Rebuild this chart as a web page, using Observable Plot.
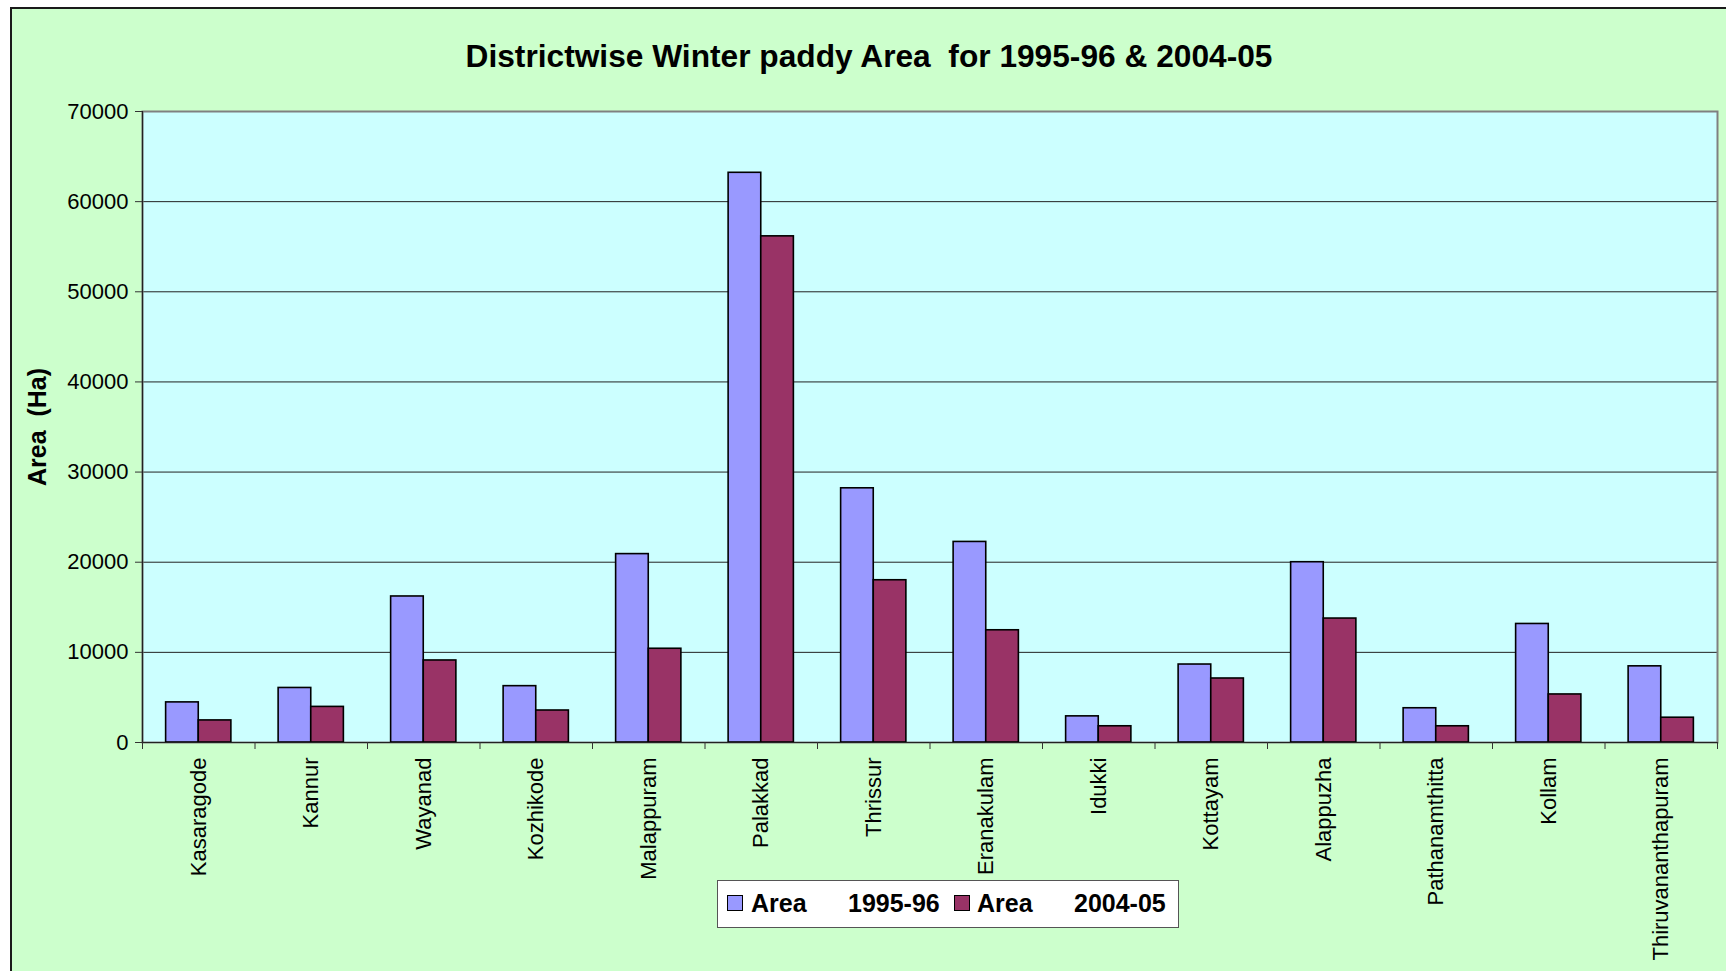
<!DOCTYPE html>
<html><head><meta charset="utf-8">
<script src="https://cdn.jsdelivr.net/npm/d3@7"></script>
<script src="https://cdn.jsdelivr.net/npm/@observablehq/plot@0.6"></script>
<style>
html,body{margin:0;padding:0;background:#fff;overflow:hidden;width:1727px;height:971px;}
#chart{position:absolute;left:10px;top:7px;width:1714px;height:962px;background:#ccffcc;border-left:2px solid #1a1a1a;border-top:2px solid #1a1a1a;font-family:"Liberation Sans",Arial,sans-serif;}
#title{position:absolute;left:0;top:31px;width:1714px;text-align:center;font-size:31.7px;line-height:32px;font-weight:bold;white-space:pre;color:#000;}
#plot{position:absolute;left:0;top:70px;}
#plot svg text{white-space:pre;}
#legend{position:absolute;left:705px;top:871px;width:460px;height:46px;background:#fff;border:1px solid #555;color:#000;}
#legend .sw{position:absolute;top:14px;width:14px;height:14px;border:1.5px solid #000;}
#legend .tx{position:absolute;top:10px;font-size:25px;line-height:25px;font-weight:bold;white-space:pre;}
</style>
</head>
<body>
<div id="chart">
  <div id="title">Districtwise Winter paddy Area  for 1995-96 &amp; 2004-05</div>
  <div id="plot"></div>
  <div id="legend"></div>
</div>
<script>
const districts = ["Kasaragode","Kannur","Wayanad","Kozhikode","Malappuram","Palakkad","Thrissur","Eranakulam","Idukki","Kottayam","Alappuzha","Pathanamthitta","Kollam","Thiruvananthapuram"];
const area1995 = [4450, 6050, 16200, 6250, 20900, 63200, 28200, 22250, 2900, 8650, 20000, 3800, 13150, 8450];
const area2004 = [2450, 3950, 9100, 3550, 10400, 56150, 18000, 12450, 1800, 7100, 13750, 1800, 5330, 2750];
const yTicks = [0, 10000, 20000, 30000, 40000, 50000, 60000, 70000];
const seriesNames = ["Area      1995-96", "Area      2004-05"];
const seriesColors = ["#9999ff", "#993366"];

const rows = districts.map((d, i) => ({district: d, a1995: area1995[i], a2004: area2004[i]}));

const W = 1714, H = 892, ML = 130, MR = 9, MT = 32, MB = 229;
const step = (W - ML - MR) / districts.length;
const gap = step * 0.21;
const barW = (step - 2 * gap) / 2;

const chart = Plot.plot({
  width: W, height: H,
  marginLeft: ML, marginRight: MR, marginTop: MT, marginBottom: MB,
  style: {background: "transparent", fontFamily: "'Liberation Sans', Arial, sans-serif", color: "#000"},
  x: {type: "band", domain: districts, padding: 0, round: false},
  y: {domain: [0, 70000]},
  marks: [
    Plot.frame({fill: "#ccffff"}),
    Plot.ruleY(yTicks.filter(v => v > 0 && v < 70000), {stroke: "#222", strokeWidth: 1}),
    Plot.frame({stroke: "#808080", strokeWidth: 2}),
    Plot.barY(rows, {x: "district", y: "a1995", fill: seriesColors[0], stroke: "#000", strokeWidth: 1.6, insetLeft: gap, insetRight: step - gap - barW}),
    Plot.barY(rows, {x: "district", y: "a2004", fill: seriesColors[1], stroke: "#000", strokeWidth: 1.6, insetLeft: gap + barW, insetRight: gap}),
    Plot.ruleY([0], {stroke: "#222", strokeWidth: 1.2}),
    Plot.frame({anchor: "left", stroke: "#222", strokeWidth: 1.2}),
    Plot.axisY({ticks: yTicks, tickSize: 7, tickPadding: 7, tickFormat: d => String(d), fontSize: 22, label: null, stroke: "#333"}),
    Plot.axisX({tickSize: 7, dx: -step / 2, tickFormat: () => "", label: null, stroke: "#333"}),
    Plot.axisX([districts[districts.length - 1]], {tickSize: 7, dx: step / 2, tickFormat: () => "", label: null, stroke: "#333"}),
    Plot.axisX({tickSize: 0, tickPadding: 15, tickRotate: -90, fontSize: 22, label: null}),
    Plot.text(["Area  (Ha)"], {text: d => d, frameAnchor: "left", textAnchor: "middle", dx: -105, rotate: -90, fontSize: 25, fontWeight: "bold", fill: "#000"})
  ]
});
document.getElementById("plot").appendChild(chart);

// legend
const legend = document.getElementById("legend");
const pos = [{sw: 9, a: 33, y: 130}, {sw: 236, a: 259, y: 356}];
seriesNames.forEach((name, i) => {
  const [lab, yr] = name.split(/\s+/);
  const sw = document.createElement("div");
  sw.className = "sw"; sw.style.left = pos[i].sw + "px"; sw.style.background = seriesColors[i];
  legend.appendChild(sw);
  const t1 = document.createElement("div");
  t1.className = "tx"; t1.style.left = pos[i].a + "px"; t1.textContent = lab;
  legend.appendChild(t1);
  const t2 = document.createElement("div");
  t2.className = "tx"; t2.style.left = pos[i].y + "px"; t2.textContent = yr;
  legend.appendChild(t2);
});
</script>
</body></html>
